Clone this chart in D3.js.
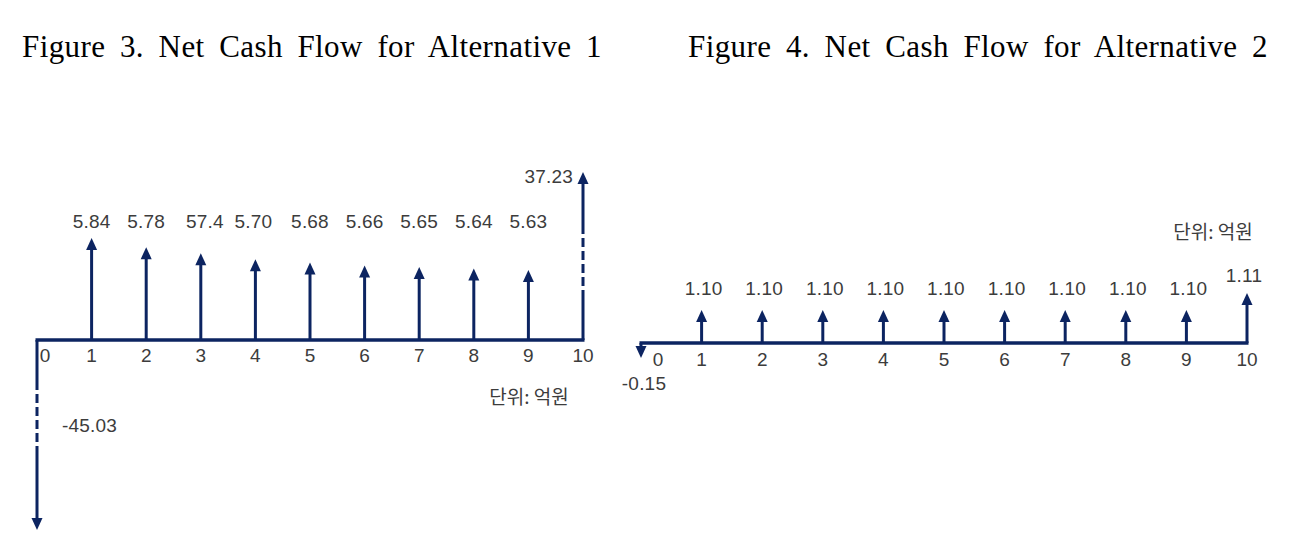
<!DOCTYPE html>
<html>
<head>
<meta charset="utf-8">
<script src="https://cdn.jsdelivr.net/npm/d3@7"></script>
<style>
  body { margin: 0; background: #fff; }
  .title { font-family: "Liberation Serif", "DejaVu Serif", serif; font-size: 31px; fill: #000; letter-spacing: 0.4px; }
  .lbl { font-family: "Liberation Sans", "Noto Sans CJK KR", sans-serif; font-size: 19px; fill: #3c3c3c; letter-spacing: 0.2px; }
  .unit { font-family: "Noto Sans CJK KR", sans-serif; font-size: 19px; fill: #3c3c3c; }
  .tick { font-family: "Liberation Sans", sans-serif; font-size: 19px; fill: #3c3c3c; }
</style>
</head>
<body>
<svg id="chart" width="1314" height="560"></svg>
<script>
// periods on the time line
var periods = ["0", "1", "2", "3", "4", "5", "6", "7", "8", "9", "10"];

// Alternative 1 net cash flow (억원)
var alt1Values = [-45.03, 5.84, 5.78, 5.74, 5.70, 5.68, 5.66, 5.65, 5.64, 5.63, 37.23];
var alt1Labels = ["-45.03", "5.84", "5.78", "57.4", "5.70", "5.68", "5.66", "5.65", "5.64", "5.63", "37.23"];

// Alternative 2 net cash flow (억원)
var alt2Values = [-0.15, 1.10, 1.10, 1.10, 1.10, 1.10, 1.10, 1.10, 1.10, 1.10, 1.11];
var alt2Labels = ["-0.15", "1.10", "1.10", "1.10", "1.10", "1.10", "1.10", "1.10", "1.10", "1.10", "1.11"];

var titles = ["Figure 3. Net Cash Flow for Alternative 1", "Figure 4. Net Cash Flow for Alternative 2"];
var unitText = "단위: 억원";

var navy = "#0c2461";
var svg = d3.select("#chart");

// titles, stretched with word spacing to the reference width
var titleBox = [[22, 602], [688, 1268]];
titles.forEach(function (t, i) {
    var el = svg.append("text").attr("class", "title")
        .attr("x", titleBox[i][0]).attr("y", 57).text(t);
    var len = el.node().getComputedTextLength();
    var spaces = t.split(" ").length - 1;
    el.style("word-spacing", ((titleBox[i][1] - titleBox[i][0] - len) / spaces) + "px");
});

function drawChart(cfg) {
    var g = svg.append("g");
    var x = d3.scaleLinear().domain([0, periods.length - 1]).range(cfg.xRange);
    var len = d3.scaleLinear().domain(cfg.lenDomain).range(cfg.lenRange);
    var hw = 5.5, hl = 12;

    var data = cfg.values.map(function (v, i) {
        return { i: i, v: v, label: cfg.labels[i] };
    });

    // time line
    g.append("line")
        .attr("x1", x(0) - 1.5).attr("x2", x(periods.length - 1) + 1.5)
        .attr("y1", cfg.axisY).attr("y2", cfg.axisY)
        .attr("stroke", navy).attr("stroke-width", 3.5);

    var arrows = g.selectAll("g.arrow").data(data).enter().append("g").attr("class", "arrow");

    arrows.append("line")
        .attr("x1", function (d) { return x(d.i); })
        .attr("x2", function (d) { return x(d.i); })
        .attr("y1", cfg.axisY)
        .attr("y2", function (d) {
            var dir = d.v < 0 ? 1 : -1;
            return cfg.axisY + dir * (len(Math.abs(d.v)) - hl + 1);
        })
        .attr("stroke", navy).attr("stroke-width", 3)
        .attr("stroke-dasharray", function (d) {
            if (!cfg.breakAt || Math.abs(d.v) < cfg.breakAt) return null;
            var parts = [cfg.breakRange[0]];
            var pos = cfg.breakRange[0];
            while (pos < cfg.breakRange[1] - 10) {
                parts.push(4, 9);
                pos += 13;
            }
            parts.push(4, 400);
            return parts.join(",");
        });

    arrows.append("path")
        .attr("fill", navy)
        .attr("d", function (d) {
            var dir = d.v < 0 ? 1 : -1;
            var tip = cfg.axisY + dir * len(Math.abs(d.v));
            var base = tip - dir * hl;
            var cx = x(d.i);
            return "M" + (cx - hw) + "," + base + "L" + (cx + hw) + "," + base + "L" + cx + "," + tip + "Z";
        });

    // value labels
    g.selectAll("text.val").data(data).enter().append("text")
        .attr("class", "lbl")
        .attr("text-anchor", function (d) { return cfg.labelPos(d, x, len).anchor; })
        .attr("x", function (d) { return cfg.labelPos(d, x, len).x; })
        .attr("y", function (d) { return cfg.labelPos(d, x, len).y; })
        .text(function (d) { return d.label; });

    // period labels
    g.selectAll("text.tick").data(periods).enter().append("text")
        .attr("class", "tick")
        .attr("text-anchor", "middle")
        .attr("x", function (d, i) { return x(i) + (i === 0 ? cfg.zeroShift : 0); })
        .attr("y", cfg.tickY)
        .text(function (d) { return d; });

    g.append("text").attr("class", "unit").attr("text-anchor", "middle")
        .attr("x", cfg.unitPos[0]).attr("y", cfg.unitPos[1]).text(unitText);
}

drawChart({
    values: alt1Values, labels: alt1Labels,
    xRange: [37, 583], axisY: 340,
    lenDomain: [5.63, 5.84, 37.23, 45.03], lenRange: [70, 102, 168, 190],
    breakAt: 20, breakRange: [50, 100],
    tickY: 362, zeroShift: 8, unitPos: [529, 404],
    labelPos: function (d, x, len) {
        if (d.v < 0) return { anchor: "start", x: x(d.i) + 25, y: 432 };
        if (d.v > 20) return { anchor: "end", x: x(d.i) - 10, y: 340 - len(d.v) + 11 };
        var nudge = d.i === 3 ? 4 : (d.i === 4 ? -2 : 0);
        return { anchor: "middle", x: x(d.i) + nudge, y: 228 };
    }
});

drawChart({
    values: alt2Values, labels: alt2Labels,
    xRange: [641, 1247], axisY: 343,
    lenDomain: [0.15, 1.10, 1.11], lenRange: [15, 33, 50],
    breakAt: null,
    tickY: 366, zeroShift: 17, unitPos: [1213, 239],
    labelPos: function (d, x, len) {
        if (d.v < 0) return { anchor: "middle", x: x(d.i) + 3, y: 390 };
        if (d.i === alt2Values.length - 1) return { anchor: "middle", x: x(d.i) - 3, y: 282 };
        return { anchor: "middle", x: x(d.i) + 2, y: 295 };
    }
});
</script>
</body>
</html>
